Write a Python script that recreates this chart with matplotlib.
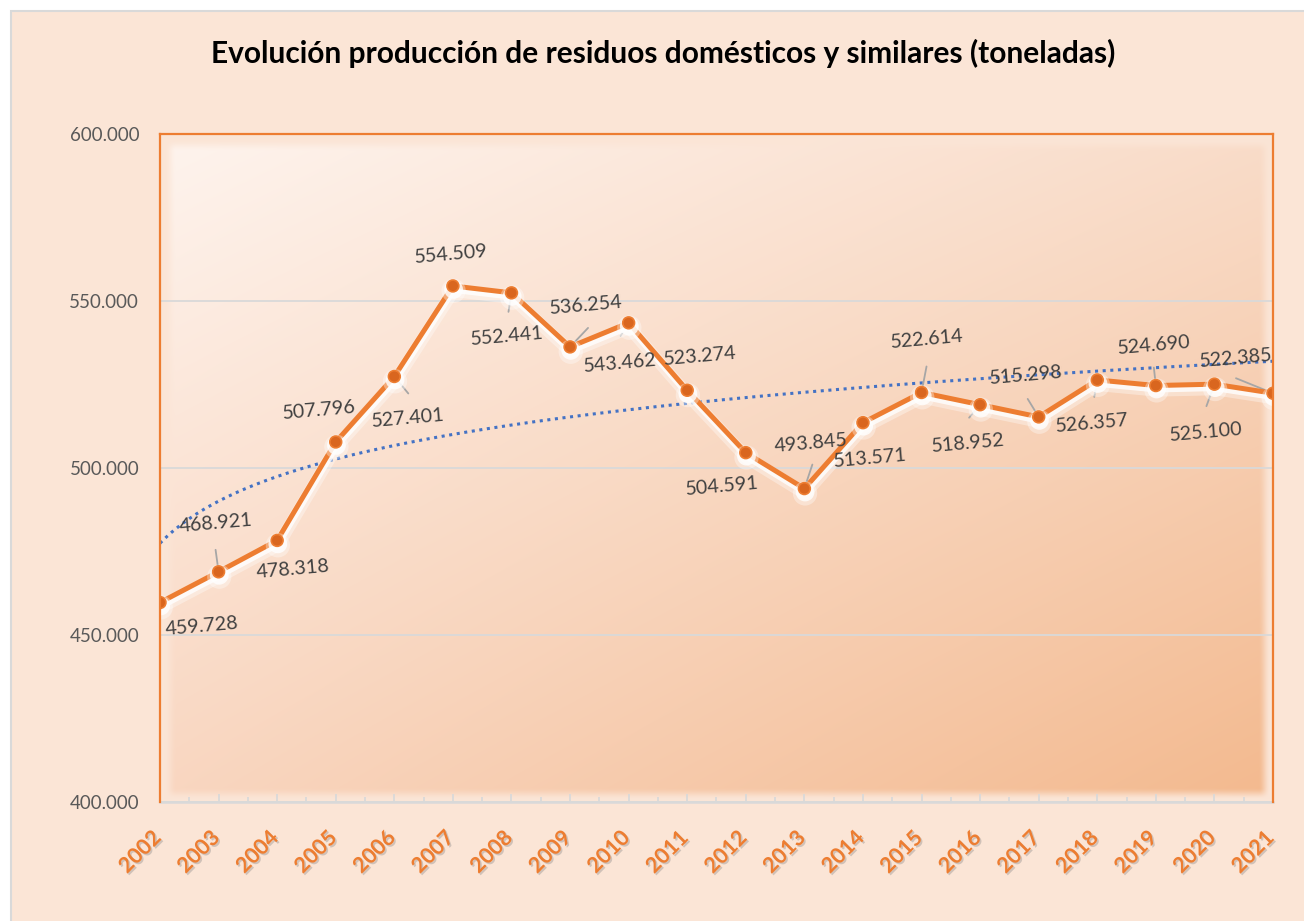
import numpy as np
import matplotlib
matplotlib.use("Agg")
import matplotlib.pyplot as plt
import matplotlib.patheffects as pe
import matplotlib.transforms as mtransforms
from matplotlib.patches import Rectangle
from matplotlib.colors import to_rgb
from matplotlib.ticker import FuncFormatter, MultipleLocator

# datos
years = list(range(2002, 2022))
toneladas = [459728, 468921, 478318, 507796, 527401, 554509, 552441, 536254,
             543462, 523274, 504591, 493845, 513571, 522614, 518952, 515298,
             526357, 524690, 525100, 522385]
titulo = "Evolución producción de residuos domésticos y similares (toneladas)"

# label placement relative to each point, in pixels (dx right, dy down)
label_off = [(42, 24), (-3, -48), (16, 29), (-17, -32), (14, 42), (-2, -32),
             (-4, 43), (16, -42), (-9, 40), (13, -34), (-24, 34), (7, -45),
             (7, 36), (5, -53), (-12, 39), (-13, -42), (-5, 43), (-2, -40),
             (-8, 48), (-37, -35)]
leader_off = [None, (-3, -22), None, None, (14, 17), None,
              (-3, 19), (18, -19), (-8, 13), None, None, (8, -24),
              None, (5, -26), (-11, 13), (-11, -18), (-3, 17), (-2, -18),
              (-8, 22), (-37, -15)]

BG = '#FBE5D6'
ORANGE = '#ED7D31'
GRID = '#D9D9D9'
PX = 0.72  # points per pixel at dpi 100

plt.rcParams['font.family'] = ['Lato', 'DejaVu Sans']

fig = plt.figure(figsize=(13.04, 9.21), dpi=100)
fig.patch.set_facecolor('white')
fig.patches.append(Rectangle((11 / 1304, -0.02), 1.0, 1 - 11 / 921 + 0.02,
                             transform=fig.transFigure, facecolor=BG,
                             edgecolor=GRID, lw=1.5, zorder=-10))

ax = fig.add_axes([160 / 1304, 1 - 802 / 921, 1113 / 1304, 668 / 921])
ax.set_facecolor(BG)

# plot area gradient with soft edges
H, W = 668, 1113
yy, xx = np.mgrid[0:H, 0:W].astype(float)
u = xx / (W - 1)
v = yy / (H - 1)
c_tl = np.array(to_rgb('#FEF4EE'))
c_tr = np.array(to_rgb('#F9DCC9'))
c_bl = np.array(to_rgb('#F9D6C0'))
c_br = np.array(to_rgb('#F3B98E'))
col = (((1 - u) * (1 - v))[..., None] * c_tl + (u * (1 - v))[..., None] * c_tr
       + ((1 - u) * v)[..., None] * c_bl + (u * v)[..., None] * c_br)

def ramp(d):
    t = np.clip((d + 6) / 12, 0, 1)
    return t * t * (3 - 2 * t)

mask = ramp(xx - 10) * ramp(W - 9 - xx) * ramp(yy - 11) * ramp(H - 9 - yy)
img = np.array(to_rgb(BG)) * (1 - mask[..., None]) + col * mask[..., None]
ax.imshow(img, extent=(years[0], years[-1], 400000, 600000), aspect='auto',
          origin='upper', zorder=0, interpolation='bilinear')

ax.set_xlim(years[0], years[-1])
ax.set_ylim(400000, 600000)

# grid / spines
ax.yaxis.set_major_locator(MultipleLocator(50000))
ax.yaxis.grid(True, color=GRID, lw=1.3, zorder=1)
ax.set_axisbelow(False)
for s in ['left', 'top', 'right']:
    ax.spines[s].set_color(ORANGE)
    ax.spines[s].set_linewidth(1.6)
    ax.spines[s].set_zorder(6)
ax.spines['bottom'].set_color(GRID)
ax.spines['bottom'].set_linewidth(1.8)

ax.yaxis.set_major_formatter(FuncFormatter(lambda y, p: f"{int(y):,}".replace(',', '.')))
ax.tick_params(axis='y', length=0, pad=15, labelsize=13.5, labelcolor='#595959')

ax.set_xticks(years)
ax.xaxis.set_minor_locator(MultipleLocator(0.5))
ax.tick_params(axis='x', which='major', direction='in', length=6, width=1.3,
               color=GRID, pad=18)
ax.tick_params(axis='x', which='minor', direction='in', length=3.5, width=1.3,
               color=GRID)
ax.set_xticklabels([str(y) for y in years])
shift = mtransforms.ScaledTranslation(5 / 100, 0, fig.dpi_scale_trans)
for lbl in ax.get_xticklabels():
    lbl.set_rotation(45)
    lbl.set_ha('right')
    lbl.set_va('top')
    lbl.set_fontsize(15.5)
    lbl.set_fontweight('bold')
    lbl.set_color(ORANGE)
    lbl.set_transform(lbl.get_transform() + shift)
    lbl.set_path_effects([pe.withSimplePatchShadow(offset=(1.2, -1.2),
                                                   shadow_rgbFace='#808080',
                                                   alpha=0.35)])

# tendencia logaritmica
idx = np.arange(1, len(years) + 1)
a, b = np.polyfit(np.log(idx), toneladas, 1)
xs = np.linspace(1, len(years), 300)
ax.plot(xs + years[0] - 1, a * np.log(xs) + b, color='#4472C4', lw=2.2,
        ls=(0, (1, 1.5)), zorder=3)

# leader lines
for x, val, lo in zip(years, toneladas, leader_off):
    if lo is None:
        continue
    ax.annotate('', xy=(x, val), xytext=(lo[0] * PX, -lo[1] * PX),
                textcoords='offset points',
                arrowprops=dict(arrowstyle='-', color='#A6A6A6', lw=1.3,
                                shrinkA=0, shrinkB=0), zorder=3.5)

# serie principal
ax.plot(years, toneladas, color=ORANGE, lw=3.6, marker='o', markersize=8.5,
        markerfacecolor='#D9661F', markeredgecolor=ORANGE, markeredgewidth=1.2,
        zorder=4,
        path_effects=[pe.SimpleLineShadow(offset=(0.5, -3.5), shadow_color='white',
                                          alpha=0.35, linewidth=9),
                      pe.SimpleLineShadow(offset=(0.5, -2.5), shadow_color='white',
                                          alpha=0.8, linewidth=5),
                      pe.Normal()])

# etiquetas de datos
for x, val, lo in zip(years, toneladas, label_off):
    ax.annotate(f"{val:,}".replace(',', '.'), xy=(x, val),
                xytext=(lo[0] * PX, -lo[1] * PX), textcoords='offset points',
                ha='center', va='center', rotation=5, fontsize=14.2,
                color='#404040', zorder=5)

fig.text(663 / 1304, 1 - 53 / 921, titulo, ha='center', va='center',
         fontsize=21.5, fontweight='bold', color='black')

fig.savefig('out.png', dpi=100, facecolor=fig.get_facecolor())
